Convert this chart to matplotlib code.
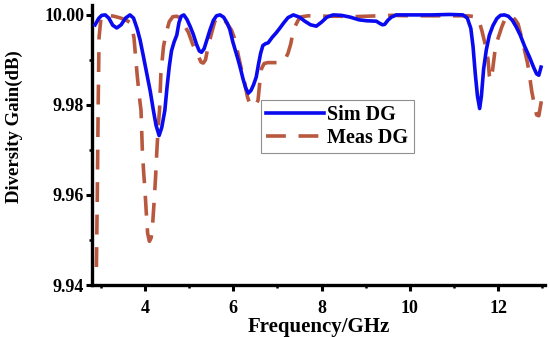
import matplotlib
matplotlib.use("Agg")
import matplotlib.pyplot as plt
from matplotlib.ticker import MultipleLocator

plt.rcParams['font.family'] = ['Liberation Serif', 'DejaVu Serif']
plt.rcParams['font.weight'] = 'bold'

# simulated diversity gain (GHz, dB)
sim_f = [2.87, 2.95, 3.02, 3.10, 3.18, 3.27, 3.36, 3.46, 3.56, 3.66, 3.74, 3.82,
         3.89, 3.96, 4.04, 4.12, 4.19, 4.25, 4.32, 4.38, 4.45, 4.50, 4.55, 4.60,
         4.66, 4.72, 4.77, 4.82, 4.88, 4.95, 5.02, 5.09, 5.17, 5.23, 5.28, 5.34,
         5.41, 5.47, 5.55, 5.62, 5.70, 5.78, 5.86, 5.92, 5.99, 6.05, 6.11, 6.17,
         6.22, 6.28, 6.34, 6.40, 6.46, 6.52, 6.57, 6.62, 6.67, 6.73, 6.79, 6.88,
         6.97, 7.05, 7.14, 7.24, 7.36, 7.50, 7.62, 7.75, 7.88, 8.00, 8.12, 8.26,
         8.45, 8.65, 8.85, 9.02, 9.24, 9.32, 9.38, 9.43, 9.50, 9.58, 9.69, 10.0,
         10.5, 10.9, 11.2, 11.30, 11.38, 11.43, 11.48, 11.53, 11.58, 11.62, 11.67,
         11.73, 11.80, 11.88, 11.97, 12.05, 12.14, 12.23, 12.32, 12.41, 12.50,
         12.60, 12.71, 12.80, 12.87, 12.92, 12.97]
sim_dg = [9.9978, 9.9992, 9.9999, 10.0000, 9.9993, 9.9977, 9.9971, 9.9978, 9.9993,
          10.0000, 9.9993, 9.9970, 9.9944, 9.9910, 9.9870, 9.9830, 9.9788, 9.9755,
          9.9732, 9.9750, 9.9788, 9.9840, 9.9885, 9.9920, 9.9940, 9.9955, 9.9983,
          9.9997, 10.0000, 9.9990, 9.9975, 9.9958, 9.9934, 9.9920, 9.9917, 9.9925,
          9.9947, 9.9966, 9.9988, 9.9998, 10.0000, 9.9995, 9.9982, 9.9968, 9.9940,
          9.9920, 9.9900, 9.9878, 9.9858, 9.9838, 9.9826, 9.9832, 9.9845, 9.9862,
          9.9890, 9.9915, 9.9932, 9.9936, 9.9938, 9.9950, 9.9960, 9.9970, 9.9982,
          9.9994, 10.0000, 9.9995, 9.9986, 9.9978, 9.9975, 9.9984, 9.9995, 10.0000,
          9.9999, 9.9995, 9.9989, 9.9987, 9.9986, 9.9981, 9.9978, 9.9979, 9.9988,
          9.9995, 10.0000, 10.0000, 10.0000, 10.0001, 10.0000, 9.9993, 9.9970,
          9.9930, 9.9870, 9.9820, 9.9792, 9.9820, 9.9880, 9.9922, 9.9955, 9.9976,
          9.9992, 9.9999, 10.0000, 9.9997, 9.9988, 9.9973, 9.9955, 9.9930, 9.9906,
          9.9884, 9.9869, 9.9866, 9.9884]

# measured diversity gain
meas_f = [2.90, 2.92, 2.94, 2.96, 3.00, 3.08, 3.16, 3.30, 3.45, 3.58, 3.68, 3.75,
          3.82, 3.87, 3.91, 3.94, 3.97, 4.00, 4.03, 4.06, 4.10, 4.14, 4.17, 4.21,
          4.24, 4.27, 4.30, 4.33, 4.36, 4.42, 4.48, 4.55, 4.63, 4.72, 4.80, 4.90,
          4.98, 5.08, 5.15, 5.21, 5.27, 5.32, 5.37, 5.43, 5.51, 5.58, 5.65, 5.72,
          5.80, 5.88, 5.96, 6.02, 6.07, 6.13, 6.19, 6.26, 6.32, 6.38, 6.45, 6.51,
          6.56, 6.60, 6.64, 6.70, 6.78, 6.90, 7.00, 7.09, 7.17, 7.24, 7.30, 7.35,
          7.40, 7.48, 7.55, 7.70, 7.90, 8.10, 8.40, 8.70, 9.00, 9.30, 9.60, 10.0,
          10.5, 11.0, 11.30, 11.50, 11.57, 11.63, 11.68, 11.73, 11.77, 11.80, 11.83,
          11.87, 11.92, 11.97, 12.03, 12.08, 12.15, 12.22, 12.30, 12.38, 12.45,
          12.53, 12.60, 12.66, 12.71, 12.76, 12.82, 12.87, 12.92, 12.98]
meas_dg = [9.9440, 9.9600, 9.9800, 9.9950, 9.9990, 10.0000, 9.9999, 9.9997, 9.9993,
           9.9988, 9.9982, 9.9950, 9.9870, 9.9820, 9.9788, 9.9700, 9.9650, 9.9610,
           9.9560, 9.9515, 9.9497, 9.9505, 9.9530, 9.9590, 9.9640, 9.9700, 9.9750,
           9.9790, 9.9870, 9.9930, 9.9960, 9.9985, 9.9996, 9.9997, 9.9993, 9.9975,
           9.9962, 9.9935, 9.9920, 9.9908, 9.9895, 9.9893, 9.9900, 9.9930, 9.9960,
           9.9985, 9.9996, 9.9995, 9.9988, 9.9978, 9.9966, 9.9950, 9.9930, 9.9903,
           9.9877, 9.9848, 9.9818, 9.9801, 9.9797, 9.9800, 9.9810, 9.9850, 9.9881,
           9.9892, 9.9894, 9.9894, 9.9894, 9.9895, 9.9900, 9.9915, 9.9935, 9.9960,
           9.9975, 9.9990, 9.9996, 9.9998, 9.9998, 9.9997, 9.9997, 9.9996, 9.9997,
           9.9998, 9.9999, 9.9998, 9.9998, 9.9998, 9.9998, 9.9996, 9.9985, 9.9965,
           9.9945, 9.9925, 9.9900, 9.9865, 9.9855, 9.9875, 9.9915, 9.9940, 9.9958,
           9.9973, 9.9990, 9.9998, 9.9997, 9.9990, 9.9980, 9.9950, 9.9920, 9.9895,
           9.9865, 9.9830, 9.9800, 9.9778, 9.9776, 9.9810]

fig = plt.figure(figsize=(5.5, 3.37), dpi=100)
ax = fig.add_axes([92 / 550, 1 - 285 / 337, 453 / 550, 280 / 337])

ax.plot(sim_f, sim_dg, color='#0a0af0', lw=2.6, label='Sim DG', zorder=3)
ax.plot(meas_f, meas_dg, color='#b8583e', lw=2.6, ls=(0, (5.5, 3.5)),
        label='Meas DG', zorder=2)

ax.set_xlim(2.8, 13.06)
ax.set_ylim(9.94, 10.0022)
ax.xaxis.set_major_locator(MultipleLocator(2))
ax.xaxis.set_minor_locator(MultipleLocator(1))
ax.yaxis.set_major_locator(MultipleLocator(0.02))
ax.yaxis.set_minor_locator(MultipleLocator(0.01))
ax.yaxis.set_major_formatter(matplotlib.ticker.FormatStrFormatter('%.2f'))

for s in ['top', 'right']:
    ax.spines[s].set_visible(False)
for s in ['left', 'bottom']:
    ax.spines[s].set_linewidth(2.4)

ax.tick_params(which='major', length=4, width=2.2, labelsize=13)
ax.tick_params(which='minor', length=2.5, width=1.8)
ax.tick_params(axis='x', which='major', pad=6.5)
ax.tick_params(axis='y', which='major', pad=1.5)

ax.set_xlabel('Frequency/GHz', fontsize=15, fontweight='bold')
ax.xaxis.set_label_coords(0.5, -0.113)
ax.set_ylabel('Diversity Gain(dB)', fontsize=13.5, fontweight='bold')
ax.yaxis.set_label_coords(-0.152, 0.564)

leg = ax.legend(loc='upper left', bbox_to_anchor=(261 / 550, 1 - 100 / 337),
                bbox_transform=fig.transFigure, borderaxespad=0, fancybox=False,
                edgecolor='#909090', framealpha=1, handlelength=2.9,
                handletextpad=0.15, borderpad=0.25, labelspacing=0.15,
                prop={'size': 14.5, 'weight': 'bold'})
leg.get_frame().set_linewidth(0.8)

fig.savefig('out.png', dpi=100)
